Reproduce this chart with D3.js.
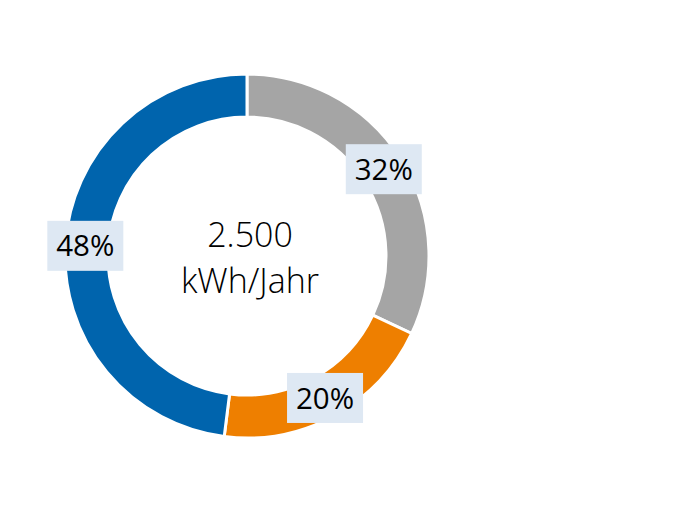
<!DOCTYPE html>
<head>
  <meta charset="utf-8">
  <script src="https://d3js.org/d3.v7.min.js"></script>
  <style>
    body { margin: 0; background: #fff; }
    text { font-family: "Open Sans", "Noto Sans", sans-serif; }
  </style>
</head>
<body>
  <script>
    // data
    var categories = ["Grau", "Orange", "Blau"];
    var shares = [32, 20, 48];
    var colors = ["#a5a5a5", "#ee7f00", "#0064ad"];
    var centerLines = ["2.500", "kWh/Jahr"];

    var width = 680, height = 510;
    var cx = 247, cy = 256;
    var outer = 182, inner = 139;

    var svg = d3.select("body").append("svg")
      .attr("width", width)
      .attr("height", height);

    var g = svg.append("g")
      .attr("transform", "translate(" + cx + "," + cy + ")");

    var pie = d3.pie().sort(null).value(function(d) { return d; });
    var arcs = pie(shares);

    var arc = d3.arc().innerRadius(inner).outerRadius(outer);
    var labelArc = d3.arc().innerRadius(162).outerRadius(162);

    g.selectAll("path").data(arcs)
      .enter().append("path")
        .attr("d", arc)
        .attr("fill", function(d, i) { return colors[i]; })
        .attr("stroke", "#fff")
        .attr("stroke-width", 3);

    // labels with boxes
    var labels = g.selectAll("g.label").data(arcs)
      .enter().append("g")
        .attr("class", "label")
        .attr("transform", function(d) {
          var c = labelArc.centroid(d);
          return "translate(" + c[0] + "," + c[1] + ")";
        });

    labels.append("rect")
      .attr("x", -38)
      .attr("y", -25)
      .attr("width", 76)
      .attr("height", 50)
      .attr("fill", "#dee8f3");

    labels.append("text")
      .attr("text-anchor", "middle")
      .attr("dy", "0.36em")
      .attr("font-size", 29.5)
      .attr("fill", "#000")
      .text(function(d) { return d.data + "%"; });

    // center text
    g.selectAll("text.center").data(centerLines)
      .enter().append("text")
        .attr("class", "center")
        .attr("text-anchor", "middle")
        .attr("x", 3)
        .attr("y", function(d, i) { return -9 + i * 46; })
        .attr("font-size", 34)
        .attr("font-weight", 300)
        .attr("fill", "#000")
        .text(function(d) { return d; });
  </script>
</body>
